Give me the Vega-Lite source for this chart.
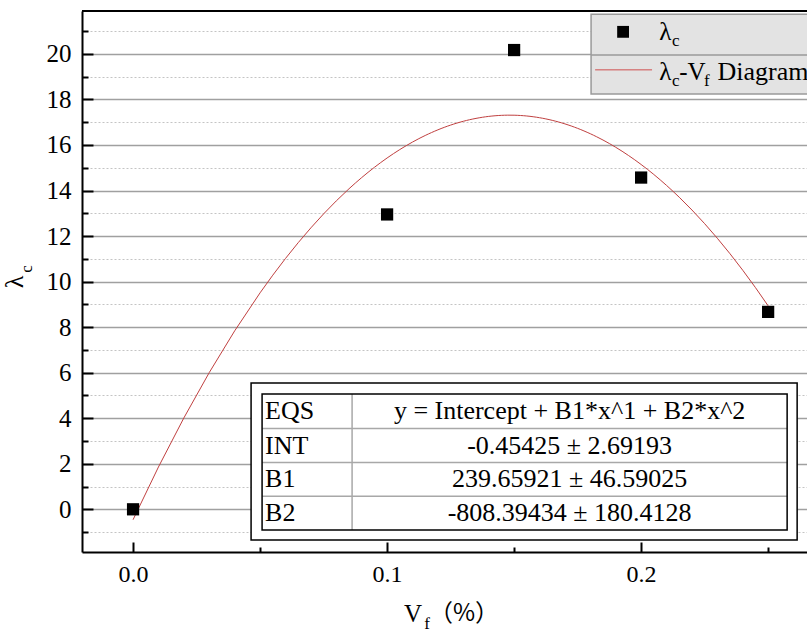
{
  "$schema": "https://vega.github.io/schema/vega-lite/v6.json",
  "width": 725,
  "height": 541,
  "autosize": {"type": "none"},
  "padding": {"left": 82, "top": 11, "right": 0, "bottom": 84},
  "background": "white",
  "config": {
    "view": {"stroke": null},
    "font": "Liberation Serif",
    "text": {"font": "Liberation Serif", "color": "black"}
  },
  "data": {"values": [
    {"vf": 0.0, "lc": 0.0},
    {"vf": 0.1, "lc": 12.95},
    {"vf": 0.15, "lc": 20.17},
    {"vf": 0.2, "lc": 14.57},
    {"vf": 0.25, "lc": 8.67}
  ]},
  "resolve": {"axis": {"x": "independent", "y": "independent"}},
  "layer": [
    {
      "layer": [
        {
          "mark": {"type": "point", "shape": "square", "filled": true, "opacity": 0},
          "encoding": {
            "x": {"field": "vf", "type": "quantitative",
              "scale": {"domain": [-0.0201, 0.2653], "nice": false, "zero": false},
              "axis": {
                "orient": "bottom",
                "title": null,
                "values": [0, 0.1, 0.2],
                "format": ".1f",
                "grid": false,
                "domainColor": "black", "domainWidth": 2,
                "tickColor": "black", "tickWidth": 2, "tickSize": -10,
                "labelPadding": 20, "labelOverlap": false,
                "labelFont": "Liberation Serif", "labelFontSize": 24, "labelColor": "black"
              }
            },
            "y": {"field": "lc", "type": "quantitative",
              "scale": {"domain": [-1.875, 21.885], "nice": false, "zero": false},
              "axis": {
                "orient": "left",
                "title": null,
                "values": [0, 2, 4, 6, 8, 10, 12, 14, 16, 18, 20],
                "grid": true, "gridColor": "#a0a0a0", "gridWidth": 1.5,
                "domainColor": "black", "domainWidth": 2,
                "tickColor": "black", "tickWidth": 2, "tickSize": -11,
                "labelPadding": 22, "labelOverlap": false,
                "labelFont": "Liberation Serif", "labelFontSize": 25, "labelColor": "black"
              }
            }
          }
        },
        {
          "data": {"values": [{}]},
          "mark": {"type": "rect", "fill": "white", "stroke": "black", "strokeWidth": 1.5},
          "encoding": {"x": {"datum": 0.04646}, "x2": {"datum": 0.26142}, "y": {"datum": 5.55}, "y2": {"datum": -1.348}}
        },
        {
          "data": {"values": [{}]},
          "mark": {"type": "rule", "stroke": "#a8a8a8", "strokeWidth": 1.5},
          "encoding": {"x": {"datum": 0.05079}, "x2": {"datum": 0.25748}, "y": {"datum": 3.55}}
        },
        {
          "data": {"values": [{}]},
          "mark": {"type": "rule", "stroke": "#a8a8a8", "strokeWidth": 1.5},
          "encoding": {"x": {"datum": 0.05079}, "x2": {"datum": 0.25748}, "y": {"datum": 2.06}}
        },
        {
          "data": {"values": [{}]},
          "mark": {"type": "rule", "stroke": "#a8a8a8", "strokeWidth": 1.5},
          "encoding": {"x": {"datum": 0.05079}, "x2": {"datum": 0.25748}, "y": {"datum": 0.573}}
        },
        {
          "data": {"values": [{}]},
          "mark": {"type": "rule", "stroke": "#a8a8a8", "strokeWidth": 1.5},
          "encoding": {"x": {"datum": 0.08622}, "y": {"datum": 5.06}, "y2": {"datum": -0.909}}
        },
        {
          "data": {"values": [{}]},
          "mark": {"type": "rect", "fill": null, "fillOpacity": 0, "stroke": "black", "strokeWidth": 1.5},
          "encoding": {"x": {"datum": 0.05079}, "x2": {"datum": 0.25748}, "y": {"datum": 5.06}, "y2": {"datum": -0.909}}
        },
        {
          "data": {"values": [{}]},
          "mark": {"type": "text", "text": "EQS", "align": "left", "baseline": "middle", "fontSize": 26},
          "encoding": {"x": {"datum": 0.05197}, "y": {"datum": 4.3}}
        },
        {
          "data": {"values": [{}]},
          "mark": {"type": "text", "text": "INT", "align": "left", "baseline": "middle", "fontSize": 26},
          "encoding": {"x": {"datum": 0.05197}, "y": {"datum": 2.8}}
        },
        {
          "data": {"values": [{}]},
          "mark": {"type": "text", "text": "B1", "align": "left", "baseline": "middle", "fontSize": 26},
          "encoding": {"x": {"datum": 0.05197}, "y": {"datum": 1.313}}
        },
        {
          "data": {"values": [{}]},
          "mark": {"type": "text", "text": "B2", "align": "left", "baseline": "middle", "fontSize": 26},
          "encoding": {"x": {"datum": 0.05197}, "y": {"datum": -0.167}}
        },
        {
          "data": {"values": [{}]},
          "mark": {"type": "text", "text": "y = Intercept + B1*x^1 + B2*x^2", "align": "center", "baseline": "middle", "fontSize": 26},
          "encoding": {"x": {"datum": 0.17185}, "y": {"datum": 4.3}}
        },
        {
          "data": {"values": [{}]},
          "mark": {"type": "text", "text": "-0.45425 ± 2.69193", "align": "center", "baseline": "middle", "fontSize": 26},
          "encoding": {"x": {"datum": 0.17185}, "y": {"datum": 2.8}}
        },
        {
          "data": {"values": [{}]},
          "mark": {"type": "text", "text": "239.65921 ± 46.59025", "align": "center", "baseline": "middle", "fontSize": 26},
          "encoding": {"x": {"datum": 0.17185}, "y": {"datum": 1.313}}
        },
        {
          "data": {"values": [{}]},
          "mark": {"type": "text", "text": "-808.39434 ± 180.4128", "align": "center", "baseline": "middle", "fontSize": 26},
          "encoding": {"x": {"datum": 0.17185}, "y": {"datum": -0.167}}
        },
        {
          "data": {"values": [{}]},
          "mark": {"type": "rect", "fill": "#e3e3e3", "stroke": "#9a9a9a", "strokeWidth": 1.5},
          "encoding": {"x": {"datum": 0.1803}, "x2": {"datum": 0.30}, "y": {"datum": 21.74}, "y2": {"datum": 18.24}}
        },
        {
          "data": {"values": [{}]},
          "mark": {"type": "rule", "stroke": "#9a9a9a", "strokeWidth": 1.5},
          "encoding": {"x": {"datum": 0.1803}, "x2": {"datum": 0.30}, "y": {"datum": 19.95}}
        },
        {
          "data": {"values": [{}]},
          "mark": {"type": "point", "shape": "square", "filled": true, "color": "black", "opacity": 1, "size": 140},
          "encoding": {"x": {"datum": 0.1929}, "y": {"datum": 20.97}}
        },
        {
          "data": {"values": [{}]},
          "mark": {"type": "rule", "stroke": "#d05050", "strokeWidth": 1},
          "encoding": {"x": {"datum": 0.1819}, "x2": {"datum": 0.2043}, "y": {"datum": 19.30}}
        },
        {
          "data": {"values": [{}]},
          "mark": {"type": "text", "text": "λ", "align": "left", "baseline": "alphabetic", "fontSize": 25},
          "encoding": {"x": {"datum": 0.2071}, "y": {"datum": 20.61}}
        },
        {
          "data": {"values": [{}]},
          "mark": {"type": "text", "text": "c", "align": "left", "baseline": "alphabetic", "fontSize": 17},
          "encoding": {"x": {"datum": 0.2122}, "y": {"datum": 20.33}}
        },
        {
          "data": {"values": [{}]},
          "mark": {"type": "text", "text": "λ", "align": "left", "baseline": "alphabetic", "fontSize": 25},
          "encoding": {"x": {"datum": 0.2071}, "y": {"datum": 18.86}}
        },
        {
          "data": {"values": [{}]},
          "mark": {"type": "text", "text": "c", "align": "left", "baseline": "alphabetic", "fontSize": 17},
          "encoding": {"x": {"datum": 0.2122}, "y": {"datum": 18.58}}
        },
        {
          "data": {"values": [{}]},
          "mark": {"type": "text", "text": "-V", "align": "left", "baseline": "alphabetic", "fontSize": 25},
          "encoding": {"x": {"datum": 0.2150}, "y": {"datum": 18.86}}
        },
        {
          "data": {"values": [{}]},
          "mark": {"type": "text", "text": "f", "align": "left", "baseline": "alphabetic", "fontSize": 17},
          "encoding": {"x": {"datum": 0.2248}, "y": {"datum": 18.58}}
        },
        {
          "data": {"values": [{}]},
          "mark": {"type": "text", "text": "Diagram", "align": "left", "baseline": "alphabetic", "fontSize": 26},
          "encoding": {"x": {"datum": 0.2301}, "y": {"datum": 18.86}}
        },
        {
          "data": {"values": [{}]},
          "mark": {"type": "text", "text": "λ", "align": "center", "baseline": "middle", "fontSize": 26, "angle": 270},
          "encoding": {"x": {"datum": -0.0465}, "y": {"datum": 9.98}}
        },
        {
          "data": {"values": [{}]},
          "mark": {"type": "text", "text": "c", "align": "center", "baseline": "middle", "fontSize": 17, "angle": 270},
          "encoding": {"x": {"datum": -0.0417}, "y": {"datum": 10.55}}
        },
        {
          "data": {"values": [{}]},
          "mark": {"type": "text", "text": "V", "align": "center", "baseline": "middle", "fontSize": 25},
          "encoding": {"x": {"datum": 0.1102}, "y": {"datum": -4.6}}
        },
        {
          "data": {"values": [{}]},
          "mark": {"type": "text", "text": "f", "align": "center", "baseline": "middle", "fontSize": 17},
          "encoding": {"x": {"datum": 0.1157}, "y": {"datum": -5.02}}
        },
        {
          "data": {"values": [{}]},
          "mark": {"type": "text", "text": "（%）", "align": "left", "baseline": "middle", "fontSize": 24, "font": "Noto Sans CJK SC"},
          "encoding": {"x": {"datum": 0.1165}, "y": {"datum": -4.6}}
        },
        {
          "transform": [{"regression": "lc", "on": "vf", "method": "poly", "order": 2}],
          "mark": {"type": "line", "color": "#c04040", "strokeWidth": 1},
          "encoding": {
            "x": {"field": "vf", "type": "quantitative"},
            "y": {"field": "lc", "type": "quantitative"}
          }
        },
        {
          "mark": {"type": "point", "shape": "square", "filled": true, "color": "black", "opacity": 1, "size": 150},
          "encoding": {
            "x": {"field": "vf", "type": "quantitative"},
            "y": {"field": "lc", "type": "quantitative"}
          }
        },
        {
          "data": {"values": [{}]},
          "mark": {"type": "rule", "stroke": "black", "strokeWidth": 2},
          "encoding": {"y": {"datum": 21.885}}
        }
      ]
    },
    {
      "mark": {"type": "point", "opacity": 0},
      "encoding": {
        "x": {"field": "vf", "type": "quantitative",
          "axis": {
            "orient": "bottom", "title": null,
            "values": [0.05, 0.15, 0.25],
            "labels": false, "domain": false, "grid": false,
            "tickColor": "black", "tickWidth": 2, "tickSize": -5
          }
        },
        "y": {"field": "lc", "type": "quantitative",
          "axis": {
            "orient": "left", "title": null,
            "values": [-1, 1, 3, 5, 7, 9, 11, 13, 15, 17, 19, 21],
            "labels": false, "domain": false,
            "grid": true, "gridColor": "#c4c4c4", "gridWidth": 1, "gridDash": [2, 2],
            "tickColor": "black", "tickWidth": 2, "tickSize": -6
          }
        }
      }
    }
  ]
}
